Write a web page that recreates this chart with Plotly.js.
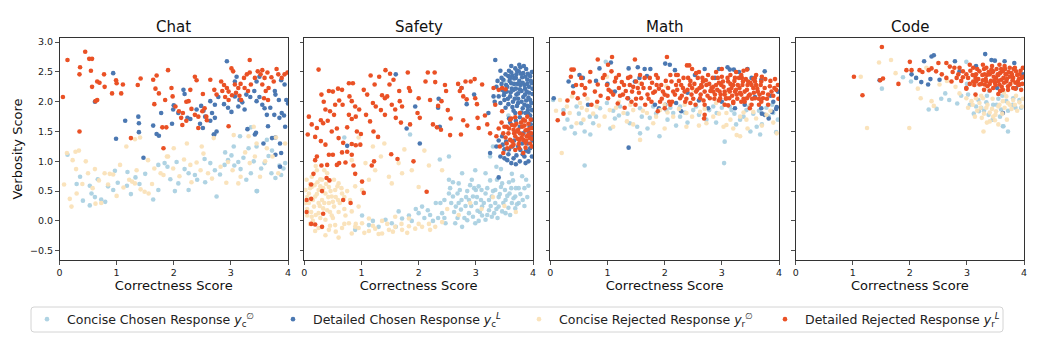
<!DOCTYPE html>
<html><head><meta charset="utf-8">
<script src="https://cdn.plot.ly/plotly-3.0.1.min.js"></script>
<style>html,body{margin:0;padding:0;background:#fff}#chart{width:1048px;height:354px}</style>
</head><body><div id="chart"></div>
<script>
const panels = ['Chat', 'Safety', 'Math', 'Code'];
const seriesNames = [
  'Concise Chosen Response <i>y</i><sub>c</sub><sup>∅</sup>',
  'Detailed Chosen Response <i>y</i><sub>c</sub><sup><i>L</i></sup>',
  'Concise Rejected Response <i>y</i><sub>r</sub><sup>∅</sup>',
  'Detailed Rejected Response <i>y</i><sub>r</sub><sup><i>L</i></sup>'
];
const xTicks = [0, 1, 2, 3, 4];
const yTicks = [-0.5, 0, 0.5, 1, 1.5, 2, 2.5, 3];
const xTitle = 'Correctness Score';
const yTitle = 'Verbosity Score';

// [correctness, verbosity] pairs
const chatConciseChosen = [[0.14,1.11],[0.36,0.74],[0.53,0.59],[0.56,0.46],[0.41,0.34],[0.73,0.36],[0.80,0.32],[0.94,0.52],[1.02,0.64],[1.19,0.82],[1.33,0.73],[1.50,0.79],[1.18,0.59],[1.73,0.94],[1.84,0.97],[1.89,0.91],[1.94,0.70],[2.05,0.99],[2.19,0.87],[2.26,0.80],[2.37,0.77],[2.41,0.69],[2.08,0.63],[1.73,0.52],[2.02,0.50],[1.64,0.36],[2.54,1.04],[2.64,0.97],[2.72,0.85],[2.81,0.78],[2.89,0.94],[2.95,1.02],[3.01,1.10],[3.06,0.93],[3.13,0.99],[3.17,0.87],[3.22,1.06],[3.27,0.69],[3.35,0.80],[3.45,0.50],[3.53,0.88],[3.59,0.97],[3.66,1.09],[3.71,0.80],[3.78,0.72],[3.85,0.93],[3.92,0.88],[2.75,0.41],[2.55,0.65],[2.26,0.52],[0.97,0.84],[0.67,0.70],[0.53,0.26],[3.35,1.57],[3.16,1.42],[3.63,1.36],[3.45,1.25],[3.31,1.22],[3.05,1.25],[3.95,0.97],[3.88,0.77],[3.46,0.50],[0.30,0.62],[0.62,0.40],[1.40,0.62],[2.90,1.15],[3.40,1.00],[3.72,1.18],[1.25,0.45],[0.85,0.58]];
const chatDetailedChosen = [[0.94,2.48],[0.62,2.0],[1.15,1.68],[1.38,1.75],[1.39,1.64],[0.99,1.38],[1.39,1.49],[1.64,1.60],[1.70,1.46],[1.74,1.43],[1.78,1.81],[1.99,1.87],[2.0,1.94],[1.97,1.63],[2.17,2.20],[2.19,2.13],[2.08,1.81],[2.24,1.73],[2.29,1.71],[2.48,1.93],[2.52,1.85],[2.55,1.75],[2.64,1.68],[2.46,1.63],[2.51,1.56],[2.67,1.81],[2.72,1.73],[2.72,1.95],[2.78,2.08],[2.70,1.45],[2.75,1.50],[2.93,2.68],[2.88,1.96],[2.95,1.90],[3.01,1.83],[3.07,2.34],[3.10,2.42],[3.13,1.92],[3.20,1.99],[3.24,1.87],[3.07,2.09],[3.15,2.03],[3.27,2.12],[3.34,2.08],[3.41,2.18],[3.45,2.01],[3.50,2.08],[3.45,2.34],[3.50,2.42],[3.55,1.95],[3.59,1.89],[3.63,1.78],[3.69,1.90],[3.76,1.78],[3.65,1.59],[3.78,2.12],[3.84,2.03],[3.85,1.73],[3.89,1.81],[3.93,1.77],[3.97,2.03],[4.0,1.97],[3.88,2.36],[3.94,2.29],[3.77,2.18],[3.72,1.39],[3.42,1.45],[3.86,1.30],[2.64,2.01],[2.40,1.87],[3.29,1.54],[3.44,1.48],[3.57,1.30],[3.78,1.11],[3.88,1.14],[3.86,0.91],[3.78,1.40],[2.71,1.45],[3.95,1.58],[1.47,1.06]];
const chatConciseRejected = [[0.08,0.61],[0.18,0.37],[0.23,1.02],[0.29,0.87],[0.46,1.0],[0.50,0.80],[0.62,0.87],[0.69,0.68],[0.79,0.80],[0.88,0.79],[0.94,0.78],[0.85,0.61],[1.06,0.94],[1.12,0.56],[1.22,0.69],[1.27,0.66],[1.32,0.63],[1.42,0.53],[1.49,0.49],[1.56,0.46],[1.55,1.02],[1.66,0.88],[1.77,0.80],[1.82,0.77],[1.90,1.08],[1.99,0.88],[2.18,1.03],[2.29,0.94],[2.31,0.65],[2.47,0.85],[2.52,1.13],[2.60,0.80],[2.67,0.71],[2.82,0.91],[2.92,0.64],[3.03,0.85],[3.13,0.63],[3.17,0.74],[3.33,0.97],[3.42,1.08],[3.51,0.74],[3.73,1.08],[3.83,0.80],[0.21,0.24],[0.63,0.29],[0.30,0.46],[0.73,0.30],[0.28,1.16],[0.13,1.14],[1.17,1.25],[1.32,1.37],[1.41,1.40],[1.88,1.08],[2.0,1.22],[2.23,1.30],[2.49,1.25],[2.70,1.39],[3.05,1.44],[3.31,1.42],[3.45,1.30],[3.63,1.22],[3.79,1.40],[3.40,1.58],[0.34,1.18],[0.40,0.62],[1.00,0.42],[1.62,0.62],[2.10,0.75],[2.40,0.98],[2.95,0.99],[3.25,1.15],[3.60,1.00],[3.95,1.30],[1.35,0.85],[0.58,0.55]];
const chatDetailedRejected = [[0.06,2.08],[0.14,2.70],[0.45,2.84],[0.52,2.72],[0.57,2.72],[0.36,2.58],[0.35,2.46],[0.55,2.52],[0.57,2.25],[0.66,2.34],[0.70,2.32],[0.78,2.46],[0.79,2.25],[0.66,2.03],[0.63,2.01],[0.35,1.50],[0.99,2.36],[1.0,2.31],[1.11,2.29],[1.08,2.14],[0.92,2.14],[1.37,2.28],[1.42,2.39],[1.64,2.37],[1.70,2.44],[1.90,2.53],[1.68,2.22],[1.74,2.14],[1.66,1.96],[1.85,2.03],[1.80,1.57],[1.87,1.57],[1.25,1.39],[1.82,1.22],[1.96,2.23],[1.98,2.09],[2.03,1.92],[2.09,1.84],[2.22,2.0],[2.26,2.01],[2.29,2.2],[2.37,2.42],[2.40,2.36],[2.16,1.81],[2.13,1.73],[2.22,1.68],[2.15,1.61],[2.31,1.88],[2.37,1.78],[2.43,1.75],[2.50,1.84],[2.54,1.89],[2.57,1.75],[2.58,1.69],[2.51,2.13],[2.64,2.37],[2.71,2.2],[2.75,2.12],[2.83,2.34],[2.88,2.28],[2.85,2.18],[2.93,2.23],[2.96,2.17],[2.90,2.08],[2.96,2.03],[3.02,2.11],[3.01,2.56],[3.04,2.51],[3.07,2.29],[3.13,2.23],[3.17,2.3],[3.09,2.15],[3.15,2.1],[3.18,2.03],[3.23,2.4],[3.28,2.46],[3.33,2.49],[3.33,2.70],[3.24,2.23],[3.3,2.18],[3.35,2.29],[3.42,2.4],[3.47,2.51],[3.52,2.46],[3.55,2.53],[3.59,2.4],[3.64,2.49],[3.55,2.29],[3.61,2.18],[3.66,2.23],[3.71,2.41],[3.75,2.34],[3.80,2.55],[3.58,2.06],[3.65,2.03],[3.83,2.46],[3.89,2.4],[3.94,2.46],[3.99,2.49],[2.43,1.56],[2.96,1.59]];

const safetyConciseChosen = [[2.53,0.46],[2.60,0.41],[2.68,0.46],[2.75,0.35],[2.57,0.30],[2.65,0.24],[2.74,0.19],[2.82,0.25],[2.88,0.35],[2.95,0.41],[3.00,0.30],[3.09,0.35],[2.88,0.13],[2.95,0.07],[3.03,0.17],[3.11,0.09],[3.17,0.46],[3.23,0.35],[3.28,0.41],[3.34,0.30],[3.23,0.18],[3.32,0.13],[3.40,0.24],[3.46,0.16],[3.52,0.35],[3.59,0.46],[3.63,0.30],[3.69,0.41],[3.75,0.30],[3.82,0.35],[3.51,0.52],[3.44,0.57],[2.41,0.13],[2.34,0.05],[2.25,0.0],[2.06,0.24],[2.16,0.18],[2.0,0.13],[2.47,-0.04],[2.64,-0.04],[2.76,-0.10],[2.99,-0.04],[3.17,0.02],[2.53,0.69],[2.70,0.63],[2.93,0.69],[3.05,0.58],[3.17,0.80],[3.37,0.69],[3.58,0.65],[3.75,0.55],[2.76,0.80],[2.99,0.85],[2.37,1.03],[2.53,1.08],[3.44,0.87],[3.63,0.79],[3.81,0.75],[3.92,0.59],[3.46,0.63],[2.70,0.30],[3.11,0.24],[3.34,0.52],[3.28,0.07],[3.52,0.13],[3.69,0.21],[2.85,0.01],[1.30,-0.10],[1.42,0.02],[1.53,-0.04],[1.71,0.04],[1.88,0.0],[1.01,0.09],[1.13,-0.07],[0.89,-0.15],[1.65,0.16],[1.83,0.09],[3.57,1.77],[1.85,1.45],[3.25,1.08],[3.88,0.69],[3.36,0.91],[3.10,0.52],[3.60,0.10],[2.45,0.35],[2.30,0.30],[3.00,0.52],[3.70,0.55],[3.40,0.40],[2.85,0.50],[0.70,1.40],[3.50,2.35],[3.30,1.25],[2.55,0.55],[2.62,0.15],[2.72,0.52],[2.80,0.05],[2.83,0.40],[2.92,0.25],[2.97,0.55],[3.02,0.40],[3.07,0.15],[3.14,0.30],[3.20,0.55],[3.26,0.25],[3.30,0.50],[3.36,0.20],[3.42,0.45],[3.48,0.30],[3.55,0.42],[3.57,0.22],[3.62,0.55],[3.66,0.38],[3.72,0.28],[3.78,0.45],[3.85,0.25],[3.90,0.40],[2.45,0.05],[2.38,0.30],[2.20,0.10],[2.10,0.05],[1.95,0.20],[3.20,0.10],[3.05,0.00],[2.68,0.05],[3.38,0.05],[2.60,0.65],[3.25,0.68],[3.65,0.68],[2.90,0.60],[3.85,0.55],[1.60,-0.10],[1.20,0.00]];
const safetyDetailedChosen = [[3.34,2.70],[3.43,2.52],[1.60,2.46],[1.94,1.92],[2.35,2.05],[2.34,1.90],[2.02,1.30],[0.75,1.26],[1.79,1.55],[2.75,2.23],[2.97,2.12],[2.84,1.96],[3.22,1.81],[3.40,0.73],[2.37,1.58],[3.48,2.37],[3.53,2.28],[3.57,2.43],[3.62,2.31],[3.67,2.39],[3.71,2.46],[3.76,2.35],[3.81,2.41],[3.85,2.28],[3.90,2.37],[3.95,2.43],[3.98,2.31],[3.54,2.17],[3.60,2.09],[3.66,2.20],[3.71,2.12],[3.77,2.21],[3.83,2.08],[3.89,2.17],[3.95,2.03],[3.99,2.13],[3.46,2.20],[3.40,2.09],[3.50,2.03],[3.57,1.96],[3.64,1.91],[3.74,1.98],[3.82,1.89],[3.90,1.93],[3.98,1.86],[3.69,1.81],[3.77,1.74],[3.87,1.81],[3.95,1.77],[3.62,2.49],[3.75,2.51],[3.83,2.48],[3.69,2.56],[3.55,2.25],[3.49,2.11],[3.43,1.98],[3.36,2.25],[3.31,2.09],[3.59,2.35],[3.64,2.44],[3.73,2.30],[3.79,2.47],[3.87,2.42],[3.93,2.25],[3.61,2.16],[3.68,2.05],[3.74,2.14],[3.80,2.00],[3.86,2.12],[3.92,2.07],[3.97,1.98],[3.52,2.46],[3.78,2.58],[3.88,2.55],[3.72,1.93],[3.85,1.95],[3.36,1.25],[3.43,1.08],[3.50,1.20],[3.57,1.12],[3.64,1.25],[3.71,1.10],[3.78,1.19],[3.85,1.08],[3.92,1.16],[3.98,1.08],[3.87,0.97],[3.77,1.0],[3.46,1.42],[3.94,1.58],[3.98,1.70],[3.90,1.30],[3.55,1.02],[3.62,0.97],[3.25,1.14],[3.77,1.58],[3.83,1.47],[3.91,1.86],[3.97,1.43],[3.60,1.65],[3.70,1.68],[3.96,1.62],[3.53,1.33],[3.67,1.35],[3.81,1.30],[3.45,2.30],[3.50,2.15],[3.56,2.05],[3.58,2.52],[3.63,2.22],[3.65,2.00],[3.67,2.30],[3.70,2.22],[3.72,2.52],[3.74,2.05],[3.78,2.28],[3.80,2.18],[3.82,2.32],[3.84,2.60],[3.86,2.22],[3.88,2.02],[3.91,2.47],[3.93,2.15],[3.94,1.92],[3.96,2.35],[3.99,2.22],[3.60,2.40],[3.70,2.40],[3.90,2.30],[3.52,1.90],[3.66,1.85],[3.80,1.82],[3.92,1.80],[3.58,1.72],[3.45,2.40],[3.38,2.35],[3.33,2.00],[3.76,2.62],[3.62,2.60],[3.98,2.50],[3.40,1.35],[3.47,1.28],[3.58,1.20],[3.66,1.05],[3.74,1.25],[3.82,1.12],[3.88,1.18],[3.95,1.22],[3.99,1.35],[3.70,0.95],[3.92,1.00],[3.50,1.05],[3.80,1.65],[3.93,1.48]];
const safetyConciseRejected = [[0.02,0.52],[0.08,0.46],[0.13,0.57],[0.19,0.41],[0.25,0.52],[0.31,0.35],[0.37,0.46],[0.43,0.57],[0.48,0.41],[0.54,0.52],[0.60,0.63],[0.66,0.46],[0.08,0.30],[0.17,0.24],[0.25,0.30],[0.33,0.21],[0.43,0.30],[0.52,0.24],[0.59,0.35],[0.04,0.69],[0.13,0.74],[0.23,0.65],[0.31,0.69],[0.40,0.80],[0.52,0.69],[0.05,0.09],[0.13,0.07],[0.25,0.13],[0.37,0.02],[0.48,0.09],[0.31,-0.10],[0.43,-0.15],[0.54,-0.07],[0.66,-0.12],[0.78,-0.04],[0.89,-0.10],[1.01,-0.04],[1.13,-0.17],[1.24,-0.13],[1.36,-0.21],[1.48,-0.15],[1.59,-0.10],[1.71,-0.15],[1.83,-0.09],[1.94,-0.13],[2.06,-0.10],[2.18,-0.05],[2.29,-0.10],[2.41,-0.02],[0.37,-0.24],[0.60,-0.28],[0.83,-0.21],[0.19,-0.17],[1.13,0.04],[1.36,0.0],[1.59,0.07],[1.83,0.04],[0.72,0.09],[0.83,0.16],[0.95,0.24],[0.83,1.02],[1.07,0.97],[1.24,0.85],[1.48,0.74],[1.71,0.80],[1.88,0.85],[1.53,0.63],[1.13,0.69],[0.89,0.58],[2.0,0.57],[2.41,0.85],[1.34,1.08],[1.01,0.52],[1.65,0.97],[2.18,0.93],[1.20,1.25],[1.40,1.30],[0.95,1.40],[1.75,1.20],[2.10,1.18],[3.80,1.65],[2.90,0.30],[3.10,0.20],[3.30,0.40],[3.50,0.25],[2.70,0.10],[3.70,0.15],[2.50,0.20],[0.10,0.62],[0.22,0.85],[0.45,0.15],[0.28,0.58],[0.70,0.20],[0.15,0.00],[0.90,-0.05],[1.70,-0.05],[0.05,0.40],[0.10,0.55],[0.15,0.35],[0.18,0.60],[0.22,0.45],[0.27,0.25],[0.28,0.70],[0.33,0.55],[0.35,0.30],[0.38,0.62],[0.42,0.40],[0.46,0.50],[0.50,0.32],[0.55,0.40],[0.58,0.58],[0.62,0.30],[0.65,0.55],[0.70,0.40],[0.75,0.50],[0.80,0.35],[0.05,0.20],[0.12,0.15],[0.20,0.10],[0.28,0.05],[0.40,0.18],[0.50,0.05],[0.60,0.15],[0.02,0.30],[0.10,-0.05],[0.25,-0.12],[0.45,-0.08],[0.55,-0.18],[0.70,-0.05],[0.95,-0.12],[1.05,-0.20],[1.20,-0.08],[1.30,-0.22],[1.45,-0.05],[1.55,-0.18],[1.80,-0.20],[2.00,-0.05],[2.20,-0.15],[0.35,0.85],[0.20,0.92]];
const safetyDetailedRejected = [[0.25,2.54],[0.08,1.75],[0.13,1.62],[0.22,1.56],[0.06,1.45],[0.19,1.41],[0.30,2.12],[0.34,2.0],[0.43,2.18],[0.50,2.17],[0.37,1.87],[0.45,1.84],[0.52,1.78],[0.29,1.69],[0.33,1.64],[0.41,1.68],[0.54,1.95],[0.61,2.02],[0.67,1.95],[0.59,2.22],[0.66,2.20],[0.48,1.50],[0.57,1.55],[0.29,1.34],[0.37,1.28],[0.60,1.39],[0.68,1.31],[0.78,2.31],[0.85,2.31],[0.79,2.09],[0.83,2.01],[0.78,1.78],[0.83,1.71],[0.90,1.75],[0.75,1.57],[0.89,1.92],[0.96,1.87],[0.92,1.50],[0.99,1.46],[0.83,1.29],[0.90,1.27],[0.98,1.28],[1.04,2.20],[1.10,2.12],[1.08,1.78],[1.15,1.67],[1.16,2.44],[1.23,2.29],[1.20,1.98],[1.25,1.92],[1.21,1.50],[1.29,1.41],[1.31,2.42],[1.36,2.11],[1.41,2.06],[1.45,2.09],[1.34,1.86],[1.41,1.78],[1.42,2.53],[1.50,2.47],[1.49,2.29],[1.56,2.37],[1.53,1.95],[1.59,1.87],[1.60,1.73],[1.69,1.65],[1.67,2.01],[1.71,1.92],[1.66,2.18],[1.81,2.49],[1.83,2.23],[1.85,2.18],[1.85,1.62],[2.0,2.06],[1.98,1.81],[2.02,1.73],[2.12,2.34],[2.16,2.49],[2.20,2.03],[2.28,2.49],[2.29,2.33],[2.25,1.62],[2.34,1.93],[2.40,2.01],[2.32,1.57],[2.39,1.53],[2.46,2.28],[2.48,2.18],[2.51,1.86],[2.56,1.72],[2.55,1.44],[2.72,2.18],[2.78,2.09],[2.84,2.04],[2.69,2.30],[2.75,2.23],[2.82,2.34],[2.91,2.34],[2.98,2.38],[2.78,1.69],[2.85,1.60],[2.74,1.45],[2.99,2.06],[3.02,1.96],[3.11,2.29],[3.03,1.73],[3.05,1.56],[3.16,1.77],[3.20,1.62],[3.25,1.47],[3.34,1.95],[3.31,2.23],[3.40,2.20],[3.46,2.23],[3.52,2.21],[3.46,1.84],[3.48,1.47],[3.54,1.58],[3.60,1.36],[3.62,1.25],[3.66,1.53],[3.69,1.42],[3.71,1.63],[3.75,1.29],[3.77,1.47],[3.81,1.58],[3.83,1.36],[3.87,1.52],[3.89,1.42],[3.92,1.63],[3.95,1.30],[3.97,1.47],[3.99,1.56],[3.57,1.47],[3.63,1.61],[3.74,1.53],[3.80,1.40],[3.83,1.70],[3.90,1.75],[3.96,1.70],[3.54,1.30],[3.69,1.19],[3.87,1.23],[3.42,1.25],[3.36,1.42],[3.48,1.14],[3.83,1.14],[3.69,1.74],[3.77,1.81],[3.91,1.53],[3.60,1.70],[3.50,1.58],[3.87,1.31],[3.76,1.36],[3.67,1.47],[3.94,1.39],[3.98,1.25],[0.22,1.08],[0.19,1.02],[0.43,1.11],[0.50,1.11],[0.66,1.15],[0.75,1.16],[0.83,1.11],[0.30,0.93],[0.40,0.94],[0.57,0.94],[0.61,0.97],[0.72,0.98],[0.86,0.93],[0.16,0.79],[0.39,0.72],[0.44,0.68],[0.89,0.79],[1.01,0.66],[0.12,0.61],[0.31,0.50],[0.04,0.15],[0.68,0.35],[0.81,0.30],[1.04,0.47],[0.33,0.12],[0.31,-0.10],[0.12,-0.05],[0.19,-0.06],[0.12,0.37],[0.04,0.35],[1.18,0.93],[1.22,1.0],[1.52,1.12],[1.63,1.04],[1.91,1.0],[2.14,0.49],[3.52,1.40],[3.58,1.55],[3.64,1.33],[3.68,1.60],[3.72,1.50],[3.76,1.22],[3.79,1.65],[3.82,1.45],[3.85,1.60],[3.88,1.35],[3.92,1.45],[3.95,1.55],[3.98,1.38],[3.62,1.72],[3.73,1.38],[3.86,1.68],[3.45,1.65],[3.40,1.55],[3.55,1.22],[3.66,1.28]];

const mathConciseChosen = [[0.60,0.93],[3.04,0.97],[3.05,1.33],[0.37,1.58],[0.43,1.47],[0.54,1.64],[0.60,1.50],[0.69,1.75],[0.75,1.64],[1.13,1.72],[1.20,1.77],[1.39,1.64],[1.52,1.58],[1.57,1.47],[1.74,1.73],[1.91,1.42],[2.15,1.81],[2.27,1.75],[2.73,1.70],[2.91,1.81],[3.17,1.86],[3.32,1.70],[3.61,1.58],[3.67,1.45],[3.95,1.49],[3.82,1.75],[0.05,2.03],[0.23,1.86],[0.46,1.92],[0.87,1.89],[0.99,1.98],[1.22,1.92],[1.57,1.89],[1.80,1.92],[2.03,1.86],[2.27,1.92],[2.50,1.86],[2.85,1.92],[3.14,1.92],[3.43,1.86],[3.78,1.90],[0.97,2.67],[3.90,1.81],[3.38,1.75],[2.60,1.78],[2.40,1.65],[3.55,1.80],[1.05,1.55],[0.30,1.70],[0.50,1.80],[0.80,1.75],[1.10,1.85],[1.35,1.80],[1.60,1.75],[1.85,1.80],[2.10,1.90],[2.35,1.82],[2.55,1.92],[2.78,1.86],[3.00,1.90],[3.22,1.80],[3.48,1.92],[3.65,1.85],[3.88,1.95],[3.70,1.62],[3.25,1.62],[2.90,1.65],[2.20,1.60],[1.70,1.55],[0.25,1.55],[0.70,1.45],[3.98,1.70],[3.50,1.50],[2.05,1.70]];
const mathDetailedChosen = [[0.06,2.06],[0.32,2.34],[0.40,2.26],[0.51,2.45],[0.57,2.40],[0.86,2.56],[1.06,2.66],[1.37,2.56],[1.53,2.58],[1.56,2.40],[1.69,2.43],[2.01,2.64],[2.09,2.62],[2.18,2.53],[1.13,2.17],[1.36,2.06],[1.83,1.95],[2.01,1.95],[1.90,1.89],[2.70,2.55],[3.14,2.54],[3.21,2.54],[2.53,2.45],[3.69,2.37],[3.75,2.51],[3.75,1.78],[3.82,1.72],[3.88,1.83],[3.96,1.91],[1.37,1.23],[0.66,1.95],[2.29,1.84],[2.88,2.40],[3.40,1.95],[3.52,2.40],[3.98,2.17],[3.69,1.89],[3.23,1.89],[1.48,2.34],[2.76,1.89],[1.00,2.30],[1.65,2.55],[2.40,2.15],[2.60,2.02],[3.00,2.00],[3.30,2.50],[3.58,2.08],[3.85,2.10],[3.90,2.00],[2.20,1.98],[0.80,2.35],[1.75,2.55],[3.10,2.58],[3.45,2.55],[3.95,1.88],[3.70,1.80],[2.95,2.55]];
const mathConciseRejected = [[0.20,1.14],[1.57,1.36],[3.03,1.58],[3.26,1.44],[3.32,1.42],[0.17,2.03],[0.29,1.92],[0.38,2.09],[0.52,1.98],[0.64,1.86],[0.81,1.92],[1.04,1.86],[1.28,1.81],[1.45,1.86],[1.69,1.81],[1.92,1.86],[2.15,1.75],[2.38,1.81],[2.62,1.83],[2.85,1.75],[3.08,1.81],[3.32,1.75],[3.55,1.83],[3.78,1.78],[1.10,1.58],[1.34,1.67],[1.80,1.64],[2.38,1.58],[2.73,1.64],[3.08,1.61],[3.43,1.70],[0.34,1.81],[0.46,1.64],[0.58,1.70],[1.57,2.31],[2.03,2.26],[2.50,2.20],[3.08,2.14],[3.61,2.26],[0.99,2.42],[3.96,1.47],[2.00,1.95],[2.90,1.98],[3.50,1.95],[1.20,2.00],[0.55,1.90],[0.75,1.80],[0.95,1.75],[1.15,1.90],[1.40,1.95],[1.62,1.85],[1.85,1.75],[2.05,1.82],[2.25,1.88],[2.48,1.75],[2.70,1.88],[2.95,1.80],[3.15,1.70],[3.38,1.82],[3.60,1.72],[3.85,1.85],[3.70,1.60],[3.20,1.55],[2.60,1.60],[2.00,1.55],[1.45,1.62],[0.85,1.60],[0.10,1.85],[3.45,1.55],[3.90,1.65],[2.35,1.95],[3.05,1.95],[0.65,2.05]];
const mathDetailedRejected = [[0.37,2.54],[0.41,2.54],[0.83,2.71],[1.08,2.75],[1.48,2.71],[2.04,2.75],[2.39,2.61],[2.43,2.61],[0.23,1.80],[0.13,1.69],[0.36,2.42],[0.45,2.28],[0.54,2.40],[0.61,2.23],[0.69,2.34],[0.78,2.17],[0.83,2.29],[0.92,2.40],[0.48,2.06],[0.60,2.12],[0.72,1.95],[0.82,2.0],[1.01,2.62],[1.07,2.51],[0.99,2.28],[1.06,2.17],[1.13,2.34],[1.20,2.23],[1.01,2.06],[1.10,2.12],[1.18,1.97],[1.29,2.28],[1.36,2.40],[1.43,2.17],[1.50,2.34],[1.27,2.12],[1.35,2.06],[1.42,2.0],[1.49,1.95],[1.57,2.45],[1.63,2.23],[1.70,2.12],[1.74,2.40],[1.59,2.06],[1.66,1.95],[1.77,2.0],[1.83,2.17],[1.88,2.40],[1.94,2.28],[2.0,2.12],[2.06,2.23],[2.12,2.34],[1.92,2.0],[2.0,1.89],[2.08,2.0],[2.18,2.12],[2.23,2.45],[2.29,2.28],[2.35,2.17],[2.41,2.40],[2.48,2.23],[2.27,2.06],[2.36,2.0],[2.47,2.12],[2.54,1.95],[2.58,2.40],[2.64,2.28],[2.70,2.17],[2.76,2.45],[2.82,2.23],[2.62,2.06],[2.70,1.95],[2.79,2.06],[2.88,2.12],[2.93,2.40],[2.99,2.28],[3.05,2.17],[3.11,2.34],[3.17,2.23],[2.97,2.06],[3.05,1.95],[3.13,2.06],[3.20,2.0],[3.23,2.40],[3.28,2.28],[3.34,2.45],[3.40,2.17],[3.46,2.34],[3.26,2.12],[3.34,2.0],[3.44,2.06],[3.52,1.95],[3.52,2.28],[3.58,2.40],[3.63,2.17],[3.69,2.34],[3.75,2.23],[3.44,2.54],[3.81,2.12],[3.87,2.17],[3.92,2.23],[3.98,2.28],[3.58,2.06],[3.69,2.0],[3.81,1.95],[2.69,1.72],[3.11,1.94],[3.49,1.89],[1.88,1.84],[2.70,1.78],[1.30,1.90],[2.61,2.23],[2.67,2.34],[2.90,2.28],[2.96,2.17],[3.02,2.34],[3.14,2.17],[3.20,2.28],[3.31,2.23],[3.37,2.34],[3.49,2.12],[3.55,2.23],[3.60,2.28],[3.66,2.12],[3.72,2.06],[3.34,2.12],[3.23,2.17],[3.08,2.06],[2.85,2.17],[2.73,2.28],[2.55,2.17],[2.44,2.28],[2.32,2.23],[2.20,2.28],[2.15,2.17],[1.97,2.17],[1.86,2.28],[1.74,2.23],[1.53,2.23],[1.39,2.28],[0.95,2.45],[1.02,2.20],[1.15,2.40],[1.22,2.10],[1.25,2.33],[1.32,2.18],[1.40,2.42],[1.45,2.25],[1.55,2.15],[1.60,2.30],[1.65,2.40],[1.72,2.05],[1.78,2.32],[1.80,2.15],[1.90,2.22],[1.95,2.05],[2.02,2.35],[2.05,2.10],[2.10,2.45],[2.13,2.00],[2.22,2.20],[2.25,2.35],[2.30,2.10],[2.33,2.40],[2.38,2.05],[2.40,2.20],[2.45,2.35],[2.50,2.05],[2.52,2.30],[2.57,2.20],[2.60,2.50],[2.63,2.12],[2.66,2.40],[2.68,2.02],[2.72,2.36],[2.75,2.10],[2.78,2.30],[2.80,2.18],[2.84,2.40],[2.87,2.05],[2.92,2.20],[2.95,2.32],[2.98,2.12],[3.00,2.42],[3.03,2.25],[3.07,2.05],[3.10,2.40],[3.12,2.20],[3.15,2.30],[3.18,2.10],[3.22,2.35],[3.25,2.20],[3.27,2.05],[3.30,2.40],[3.32,2.15],[3.36,2.28],[3.38,2.05],[3.42,2.38],[3.44,2.20],[3.47,2.10],[3.50,2.32],[3.53,2.05],[3.56,2.15],[3.58,2.34],[3.62,2.22],[3.65,2.05],[3.68,2.28],[3.72,2.15],[3.76,2.38],[3.79,2.05],[3.84,2.26],[3.90,2.10],[3.95,2.20],[3.99,2.05],[2.20,2.45],[2.55,2.48],[2.90,2.50],[3.25,2.50],[3.60,2.45],[3.05,2.12],[3.35,2.40],[3.15,2.45],[2.85,2.25],[2.65,2.25],[3.45,2.28],[3.55,2.38],[3.70,2.42],[1.85,2.45],[1.50,2.05],[1.20,2.45],[0.70,2.50],[0.55,2.28],[0.40,2.15],[0.88,2.10],[0.30,2.02],[2.95,2.02],[3.20,1.98],[3.40,2.00],[3.65,1.95],[2.45,1.98],[2.10,1.95],[3.85,2.35],[3.93,2.38],[3.00,2.55],[3.38,2.52],[2.48,2.55]];

const codeConciseChosen = [[1.51,2.22],[1.88,2.41],[2.02,2.34],[2.33,1.87],[2.47,1.88],[2.62,2.14],[2.69,2.03],[2.83,1.97],[3.02,2.12],[3.16,1.92],[3.21,1.84],[3.34,1.99],[3.46,1.95],[3.60,1.87],[3.64,1.59],[3.69,2.01],[3.81,2.06],[3.92,2.03],[3.20,2.03],[3.63,1.59],[3.72,1.50],[3.39,2.18],[2.99,2.67],[3.55,2.05],[3.30,1.85],[3.85,1.90],[3.05,1.95],[3.12,1.80],[3.25,1.90],[3.38,1.78],[3.52,1.95],[3.58,1.75],[3.72,1.85],[3.80,1.95],[3.95,1.90],[2.90,2.10],[2.55,2.05],[3.35,2.10],[3.62,2.10],[3.45,1.70],[3.00,2.30]];
const codeDetailedChosen = [[1.47,2.36],[2.38,2.76],[2.42,2.78],[2.25,2.68],[3.32,2.80],[2.03,2.46],[2.11,2.40],[2.20,2.33],[2.32,2.29],[2.36,2.38],[2.52,2.37],[2.79,2.68],[3.43,2.70],[3.49,2.69],[3.66,2.68],[3.83,2.65],[3.53,2.23],[3.63,2.18],[3.86,2.23],[3.63,1.81],[3.92,2.29],[3.98,2.46],[2.87,2.51],[3.16,2.60]];
const codeConciseRejected = [[1.25,1.56],[1.99,1.56],[3.29,1.50],[1.46,2.66],[1.67,2.70],[1.14,2.42],[1.75,2.48],[2.14,2.22],[2.19,2.06],[2.38,2.01],[2.42,1.93],[2.87,2.14],[2.99,2.06],[3.08,2.01],[3.16,2.06],[3.22,1.98],[3.28,2.06],[3.34,1.90],[3.40,1.82],[3.46,1.75],[3.51,1.84],[3.57,1.95],[3.63,2.01],[3.69,2.09],[3.75,1.95],[3.81,2.03],[3.86,2.10],[3.92,1.99],[3.14,1.75],[3.26,1.73],[3.40,1.67],[3.49,1.69],[3.11,2.29],[3.81,2.34],[2.52,2.29],[2.29,2.57],[3.02,1.90],[3.10,1.95],[3.18,1.85],[3.24,1.90],[3.30,1.80],[3.36,1.95],[3.44,1.88],[3.50,1.78],[3.55,1.92],[3.62,1.80],[3.66,1.90],[3.72,1.98],[3.78,1.88],[3.84,1.95],[3.88,1.85],[3.96,1.92],[3.98,2.05],[3.25,2.10],[3.45,2.05],[3.65,2.15],[3.35,1.65],[3.55,1.62],[2.80,2.25],[2.65,2.35],[3.70,1.70]];
const codeDetailedRejected = [[1.51,2.92],[1.02,2.42],[1.17,2.11],[1.53,2.39],[1.48,2.36],[1.80,2.30],[2.00,2.67],[1.94,2.53],[2.03,2.53],[2.17,2.53],[2.22,2.50],[2.33,2.53],[2.38,2.56],[2.50,2.65],[2.46,2.51],[2.56,2.46],[2.64,2.65],[2.70,2.59],[2.78,2.57],[2.64,2.40],[2.73,2.34],[2.85,2.46],[2.87,2.57],[2.93,2.51],[2.99,2.46],[3.05,2.62],[3.11,2.57],[3.16,2.46],[3.22,2.51],[3.28,2.62],[3.34,2.57],[3.40,2.46],[3.46,2.51],[3.51,2.40],[3.57,2.62],[3.63,2.51],[3.69,2.46],[3.75,2.57],[3.81,2.40],[3.86,2.51],[3.92,2.46],[3.98,2.57],[3.96,2.40],[2.99,2.23],[3.11,2.34],[3.22,2.29],[3.34,2.34],[3.46,2.23],[3.57,2.29],[3.69,2.34],[3.81,2.23],[3.92,2.29],[3.40,2.19],[3.55,2.13],[3.63,2.20],[2.93,2.41],[3.16,2.34],[3.31,2.46],[3.43,2.54],[3.54,2.46],[3.66,2.60],[3.78,2.48],[3.49,2.32],[3.60,2.37],[3.72,2.26],[3.84,2.57],[3.89,2.34],[3.31,2.29],[2.99,2.22],[3.15,2.12],[3.02,2.40],[3.06,2.52],[3.10,2.45],[3.13,2.28],[3.18,2.55],[3.20,2.38],[3.25,2.30],[3.27,2.45],[3.30,2.55],[3.33,2.38],[3.36,2.26],[3.38,2.50],[3.42,2.35],[3.44,2.60],[3.47,2.42],[3.50,2.28],[3.52,2.55],[3.55,2.35],[3.58,2.48],[3.61,2.25],[3.64,2.40],[3.67,2.55],[3.70,2.38],[3.73,2.50],[3.76,2.30],[3.79,2.45],[3.82,2.55],[3.85,2.32],[3.88,2.45],[3.91,2.38],[3.94,2.52],[3.97,2.30],[3.99,2.42],[3.35,2.45],[3.45,2.50],[3.55,2.45],[3.65,2.32],[3.75,2.42],[3.40,2.30],[3.60,2.55],[3.28,2.36],[3.48,2.35],[3.68,2.46],[3.80,2.36],[3.90,2.28],[3.15,2.40],[3.05,2.30],[2.90,2.35],[2.82,2.40],[2.75,2.50],[3.58,2.18],[3.72,2.20],[3.85,2.22],[3.95,2.20],[3.30,2.20]];

const panelData = [
  [chatConciseChosen, chatDetailedChosen, chatConciseRejected, chatDetailedRejected],
  [safetyConciseChosen, safetyDetailedChosen, safetyConciseRejected, safetyDetailedRejected],
  [mathConciseChosen, mathDetailedChosen, mathConciseRejected, mathDetailedRejected],
  [codeConciseChosen, codeDetailedChosen, codeConciseRejected, codeDetailedRejected]
];

const colors = ['rgba(166,206,224,0.9)', '#4b78b2', 'rgba(250,226,184,0.95)', '#ea5125'];
const W = 1048, H = 354;
const xDomains = [[59.5/W, 288/W], [304.3/W, 533/W], [550.3/W, 779/W], [795.7/W, 1024/W]];
const yDomain = [1 - 260/H, 1 - 38/H];
const FONT = 'DejaVu Sans, Verdana, sans-serif';

const traces = [];
panelData.forEach((series, p) => {
  const ax = p === 0 ? '' : String(p + 1);
  series.forEach((pts, s) => {
    traces.push({
      type: 'scatter', mode: 'markers',
      x: pts.map(d => d[0]), y: pts.map(d => d[1]),
      xaxis: 'x' + ax, yaxis: 'y' + ax,
      name: seriesNames[s], legendgroup: 'g' + s, showlegend: p === 0,
      marker: {color: colors[s], size: 4.6, line: {width: 0}},
      hoverinfo: 'skip'
    });
  });
});

const layout = {
  width: W, height: H,
  margin: {l: 0, r: 0, t: 0, b: 0},
  paper_bgcolor: '#fff', plot_bgcolor: '#fff',
  font: {family: FONT, color: '#222'},
  showlegend: true,
  legend: {
    orientation: 'h', x: 27/W, xanchor: 'left', y: 1 - 319.5/H, yanchor: 'middle',
    bgcolor: 'rgba(0,0,0,0)', borderwidth: 0,
    font: {family: FONT, size: 12.5, color: '#222'},
    entrywidth: 201, entrywidthmode: 'pixels', itemsizing: 'trace'
  },
  annotations: [],
  shapes: []
};

panelData.forEach((_, p) => {
  const ax = p === 0 ? '' : String(p + 1);
  layout['xaxis' + ax] = {
    domain: xDomains[p], anchor: 'y' + ax, range: [0, 4],
    tickvals: xTicks, ticktext: xTicks.map(String),
    ticks: 'outside', ticklen: 3.5, tickwidth: 0.8, tickcolor: '#222',
    showline: true, mirror: true, linecolor: '#333', linewidth: 1,
    showgrid: false, zeroline: false,
    tickfont: {family: FONT, size: 9.5, color: '#222'},
    title: {text: xTitle, font: {family: FONT, size: 13, color: '#111'}, standoff: 2}
  };
  layout['yaxis' + ax] = {
    domain: yDomain, anchor: 'x' + ax, range: [-0.656, 3.07],
    tickvals: yTicks, ticktext: yTicks.map(v => (v < 0 ? '\u2212' : '') + Math.abs(v).toFixed(1)),
    showticklabels: p === 0,
    ticks: 'outside', ticklen: 3.5, tickwidth: 0.8, tickcolor: '#222',
    showline: true, mirror: true, linecolor: '#333', linewidth: 1,
    showgrid: false, zeroline: false,
    tickfont: {family: FONT, size: 9.5, color: '#222'},
    title: p === 0 ? {text: yTitle, font: {family: FONT, size: 13, color: '#111'}, standoff: 4} : {text: ''}
  };
  layout.annotations.push({
    text: panels[p], xref: 'paper', yref: 'paper',
    x: (xDomains[p][0] + xDomains[p][1]) / 2, y: 1 - 27/H,
    xanchor: 'center', yanchor: 'middle', showarrow: false,
    font: {family: FONT, size: 15, color: '#111'}
  });
});

// rounded legend frame
(function () {
  const x0 = 31/W, x1 = 1003/W, yt = 1 - 307/H, yb = 1 - 332/H, rx = 3/W, ry = 3/H;
  const path = `M ${x0+rx},${yt} L ${x1-rx},${yt} Q ${x1},${yt} ${x1},${yt-ry} L ${x1},${yb+ry} Q ${x1},${yb} ${x1-rx},${yb} L ${x0+rx},${yb} Q ${x0},${yb} ${x0},${yb+ry} L ${x0},${yt-ry} Q ${x0},${yt} ${x0+rx},${yt} Z`;
  layout.shapes.push({type: 'path', xref: 'paper', yref: 'paper', path: path,
    line: {color: '#d4d4d4', width: 1}, fillcolor: 'rgba(255,255,255,0.85)', layer: 'below'});
})();

Plotly.newPlot('chart', traces, layout, {staticPlot: true, displayModeBar: false});
</script>
</body></html>
